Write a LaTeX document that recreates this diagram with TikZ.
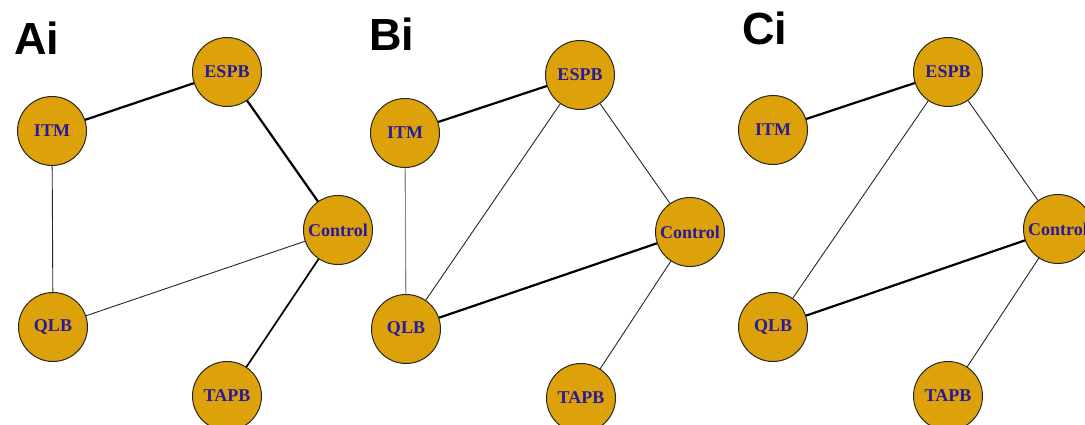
\documentclass[tikz,border=0pt]{standalone}
\usepackage{fontspec}
\setmainfont{Liberation Serif}
\newfontfamily\labfont{Liberation Sans}
\definecolor{nodefill}{HTML}{DDA20A}
\definecolor{nodetext}{HTML}{2A1A9A}
\tikzset{
  vert/.style={circle, draw=black!85, line width=1pt, fill=nodefill, minimum size=69pt, inner sep=0pt, text=nodetext, font=\fontsize{18}{18}\selectfont\bfseries},
  thickedge/.style={line width=2.2pt, black},
  medEdge/.style={line width=1.7pt, black},
  thinedge/.style={line width=0.9pt, black!85},
  greyedge/.style={line width=1.1pt, black!45},
  panellab/.style={anchor=base west, inner sep=0pt, font=\labfont\fontsize{45}{45}\selectfont\bfseries}
}
\begin{document}
\begin{tikzpicture}[x=1pt,y=-1pt]
\useasboundingbox (0,0) rectangle (1085,425);
\clip (0,0) rectangle (1085,425);
% Panel A
\node[panellab] (la) at (14,55) {Ai};
\node[vert] (aE) at (227,72) {ESPB};
\node[vert] (aI) at (52,131) {ITM};
\node[vert] (aC) at (338,230) {Control};
\node[vert] (aQ) at (53,327) {QLB};
\node[vert] (aT) at (227,396) {TAPB};
% Panel B
\node[panellab] (lb) at (369,51) {Bi};
\node[vert] (bE) at (580,75) {ESPB};
\node[vert] (bI) at (405,133) {ITM};
\node[vert] (bC) at (690,232) {Control};
\node[vert] (bQ) at (406,329) {QLB};
\node[vert] (bT) at (581,398) {TAPB};
% Panel C
\node[panellab] (lc) at (742,45) {Ci};
\node[vert] (cE) at (948,72) {ESPB};
\node[vert] (cI) at (773,130) {ITM};
\node[vert] (cC) at (1058,229) {Control};
\node[vert] (cQ) at (773,327) {QLB};
\node[vert] (cT) at (948,396) {TAPB};
% Edges A
\draw[thickedge] (aI) -- (aE);
\draw[thickedge] (aE) -- (aC);
\draw[thinedge] (aI) -- (aQ);
\draw[thinedge] (aQ) -- (aC);
\draw[medEdge] (aC) -- (aT);
% Edges B
\draw[thickedge] (bI) -- (bE);
\draw[thinedge] (bE) -- (bQ);
\draw[thinedge] (bE) -- (bC);
\draw[greyedge] (bI) -- (bQ);
\draw[thickedge] (bQ) -- (bC);
\draw[thinedge] (bC) -- (bT);
% Edges C
\draw[thickedge] (cI) -- (cE);
\draw[thinedge] (cE) -- (cQ);
\draw[thinedge] (cE) -- (cC);
\draw[thickedge] (cQ) -- (cC);
\draw[thinedge] (cC) -- (cT);
\end{tikzpicture}
\end{document}
